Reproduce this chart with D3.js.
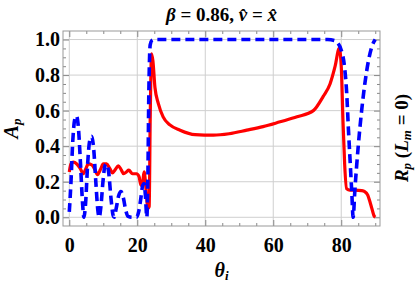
<!DOCTYPE html>
<html lang="en">
<head>
  <meta charset="UTF-8">
  <title>beta = 0.86, v = x</title>
  <style>
    body { margin: 0; background: #fff; }
  </style>
</head>
<body>
  <script src="https://d3js.org/d3.v7.min.js"></script>
  <script>

    // A_p (red, solid) - angle in degrees, value
    const apTheta = [0, 0.5, 1.2, 2.2, 3.2, 4.1, 4.9, 5.6, 6.6, 7.5, 8.3, 9.2, 10, 11, 11.9, 12.7, 13.6, 14.4, 15.2, 16, 16.8, 17.5, 18.6, 19.8, 20.5, 21.1, 21.6, 22, 22.4, 22.8, 23.2, 23.5, 23.8, 24.2, 24.6, 25.2, 26.2, 27.6, 29.6, 32.6, 37, 42.4, 47, 52.2, 57, 62, 67, 71.8, 74.7, 76.7, 78.2, 79.4, 80, 80.5, 81, 81.6, 82.5, 84, 86, 86.9, 87.8, 88.4, 89, 89.6, 90];
    const apValue = [0.255, 0.3, 0.31, 0.3, 0.275, 0.245, 0.275, 0.3, 0.295, 0.27, 0.24, 0.27, 0.3, 0.3, 0.275, 0.25, 0.27, 0.29, 0.27, 0.245, 0.255, 0.265, 0.245, 0.245, 0.23, 0.18, 0.2, 0.255, 0.2, 0.1, 0.05, 0.06, 0.55, 0.92, 0.88, 0.73, 0.64, 0.565, 0.52, 0.49, 0.465, 0.462, 0.47, 0.49, 0.51, 0.537, 0.565, 0.6, 0.68, 0.75, 0.85, 0.95, 0.85, 0.55, 0.3, 0.16, 0.153, 0.153, 0.15, 0.145, 0.125, 0.09, 0.05, 0.01, 0];

    // R_p (blue, dashed)
    const rpTheta = [0, 0.5, 1, 1.6, 2.1, 2.7, 3.3, 3.9, 4.3, 4.8, 5.4, 6.0, 6.6, 7.2, 7.8, 8.4, 8.8, 9.3, 9.9, 10.5, 11, 11.6, 12.3, 12.9, 13.2, 13.8, 14.5, 15.2, 15.9, 16.6, 17.3, 18.5, 19.8, 20.4, 21, 21.6, 22, 22.4, 22.8, 23.1, 23.4, 23.8, 24.3, 25, 40, 60, 76, 78, 79, 80, 81, 81.6, 82.1, 82.6, 83.1, 83.5, 84, 85, 86, 87, 88, 89, 90];
    const rpValue = [0.03, 0.2, 0.42, 0.55, 0.57, 0.5, 0.3, 0.08, 0, 0.08, 0.3, 0.43, 0.455, 0.38, 0.2, 0.04, 0, 0.06, 0.2, 0.29, 0.3, 0.25, 0.1, 0.01, 0, 0.05, 0.12, 0.145, 0.11, 0.04, 0.005, 0, 0, 0.03, 0.1, 0.18, 0.19, 0.12, 0, 0.2, 0.7, 0.97, 0.995, 1, 1, 1, 1, 0.995, 0.98, 0.94, 0.84, 0.7, 0.5, 0.32, 0.14, 0, 0.15, 0.4, 0.6, 0.76, 0.88, 0.96, 1];

    const xTicks = [0, 20, 40, 60, 80];
    const yTicks = [0, 0.2, 0.4, 0.6, 0.8, 1.0];

    const serif = '"Liberation Serif", "Times New Roman", serif';

    const svgWidth = 415, svgHeight = 285;
    const margin = { top: 31, right: 35, bottom: 59, left: 63 };
    const width = svgWidth - margin.left - margin.right,
      height = svgHeight - margin.top - margin.bottom;

    const xScale = d3.scaleLinear().domain([-1.85, 91.4]).range([0, width]);
    const yScale = d3.scaleLinear().domain([-0.049, 1.048]).range([height, 0]);

    const svg = d3.select('body').append('svg')
      .attr('width', svgWidth)
      .attr('height', svgHeight)
      .attr('font-family', serif)
      .attr('font-weight', 'bold');

    const g = svg.append('g')
      .attr('transform', `translate(${margin.left},${margin.top})`);

    // gridlines
    g.append('g').selectAll('line').data(xTicks).join('line')
      .attr('x1', d => xScale(d)).attr('x2', d => xScale(d))
      .attr('y1', 0).attr('y2', height)
      .attr('stroke', '#cfcfcf').attr('stroke-width', 1);
    g.append('g').selectAll('line').data(yTicks).join('line')
      .attr('y1', d => yScale(d)).attr('y2', d => yScale(d))
      .attr('x1', 0).attr('x2', width)
      .attr('stroke', '#cfcfcf').attr('stroke-width', 1);

    // frame ticks (inside), major + minor, all four sides
    const xMinor = d3.range(0, 91, 5).filter(d => d % 20 !== 0);
    const yMinor = d3.range(0, 21, 1).map(d => d * 0.05).filter((d, i) => i % 4 !== 0);

    function frameAxis(axisFn, scale, ticks, size, transform) {
      const a = g.append('g').attr('transform', transform)
        .call(axisFn(scale).tickValues(ticks).tickSize(size).tickSizeOuter(0).tickFormat(''));
      a.select('.domain').remove();
      a.selectAll('.tick line').attr('stroke', '#888');
      return a;
    }
    frameAxis(d3.axisBottom, xScale, xMinor, -3, `translate(0,${height})`);
    frameAxis(d3.axisTop, xScale, xMinor, -3, 'translate(0,0)');
    frameAxis(d3.axisLeft, yScale, yMinor, -3, 'translate(0,0)');
    frameAxis(d3.axisRight, yScale, yMinor, -3, `translate(${width},0)`);
    frameAxis(d3.axisTop, xScale, xTicks, -6, 'translate(0,0)');
    frameAxis(d3.axisRight, yScale, yTicks, -6, `translate(${width},0)`);

    const xAxis = g.append('g').attr('transform', `translate(0,${height})`)
      .call(d3.axisBottom(xScale).tickValues(xTicks).tickSize(-6).tickPadding(12).tickFormat(d3.format('d')));
    xAxis.select('.domain').remove();
    xAxis.selectAll('.tick line').attr('stroke', '#888');
    xAxis.attr('font-family', serif).attr('font-size', 20);
    xAxis.selectAll('text').attr('fill', '#000');

    const yAxis = g.append('g')
      .call(d3.axisLeft(yScale).tickValues(yTicks).tickSize(-6).tickPadding(3).tickFormat(d3.format('.1f')));
    yAxis.select('.domain').remove();
    yAxis.selectAll('.tick line').attr('stroke', '#888');
    yAxis.attr('font-family', serif).attr('font-size', 20);
    yAxis.selectAll('text').attr('fill', '#000');

    // frame
    g.append('rect')
      .attr('width', width).attr('height', height)
      .attr('fill', 'none').attr('stroke', '#999').attr('stroke-width', 1);

    // curves
    svg.append('clipPath').attr('id', 'clip')
      .append('rect').attr('width', width).attr('height', height);

    const line = d3.line()
      .x(d => xScale(d[0]))
      .y(d => yScale(d[1]))
      .curve(d3.curveMonotoneX);

    const plot = g.append('g').attr('clip-path', 'url(#clip)');

    plot.append('path')
      .datum(d3.zip(apTheta, apValue))
      .attr('d', line)
      .attr('fill', 'none')
      .attr('stroke', '#ff0000')
      .attr('stroke-width', 3.2)
      .attr('stroke-linejoin', 'round');

    plot.append('path')
      .datum(d3.zip(rpTheta, rpValue))
      .attr('d', line)
      .attr('fill', 'none')
      .attr('stroke', '#0000ff')
      .attr('stroke-width', 3.6)
      .attr('stroke-dasharray', '9,5');

    // title
    const title = svg.append('text')
      .attr('x', margin.left + width / 2).attr('y', 21)
      .attr('text-anchor', 'middle').attr('font-size', 19);
    title.append('tspan').attr('font-style', 'italic').text('β');
    title.append('tspan').text(' = 0.86,   ');
    title.append('tspan').attr('font-style', 'italic').text('v\u0302');
    title.append('tspan').text(' = ');
    title.append('tspan').attr('font-style', 'italic').text('x\u0302');

    // x label
    const xl = svg.append('text')
      .attr('x', margin.left + width / 2).attr('y', 277)
      .attr('text-anchor', 'middle').attr('font-size', 20).attr('font-style', 'italic');
    xl.append('tspan').text('θ');
    xl.append('tspan').attr('font-size', 13).attr('dy', 3).text('i');

    // left y label
    const yl = svg.append('text')
      .attr('transform', `translate(18,${margin.top + height / 2}) rotate(-90)`)
      .attr('text-anchor', 'middle').attr('font-size', 20).attr('font-style', 'italic');
    yl.append('tspan').text('A');
    yl.append('tspan').attr('font-size', 13).attr('dy', 3).text('p');

    // right label
    const rl = svg.append('text')
      .attr('transform', `translate(408,138) rotate(-90)`)
      .attr('text-anchor', 'middle').attr('font-size', 19);
    rl.append('tspan').attr('font-style', 'italic').text('R');
    rl.append('tspan').attr('font-style', 'italic').attr('font-size', 13).attr('dy', 3).text('p');
    rl.append('tspan').attr('dy', -3).text(' (');
    rl.append('tspan').attr('font-style', 'italic').text('L');
    rl.append('tspan').attr('font-style', 'italic').attr('font-size', 13).attr('dy', 3).text('m');
    rl.append('tspan').attr('dy', -3).text(' = 0)');

  </script>
</body>
</html>
